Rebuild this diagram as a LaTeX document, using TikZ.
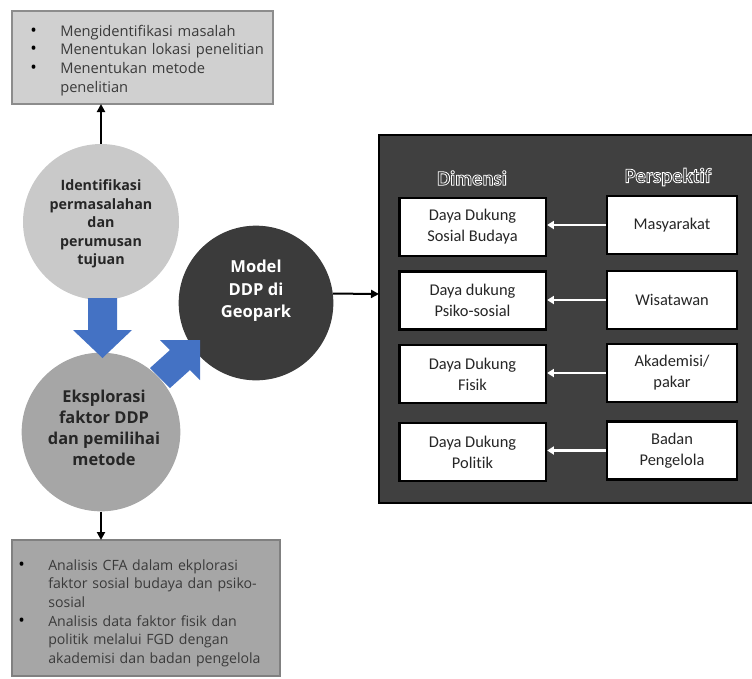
\documentclass[tikz,border=0pt]{standalone}
\usepackage{fontspec}
\setmainfont{Open Sans}
\newfontfamily\carlito[Ligatures=NoCommon]{Carlito}
\usetikzlibrary{arrows.meta}
\definecolor{topbox}{HTML}{D0D0D0}
\definecolor{botbox}{HTML}{A6A6A6}
\definecolor{circA}{HTML}{C9C9C9}
\definecolor{circB}{HTML}{A6A6A6}
\definecolor{circC}{HTML}{3B3B3B}
\definecolor{panelgray}{HTML}{404040}
\definecolor{bluearrow}{HTML}{4472C4}
\definecolor{bodytext}{HTML}{3A3A3A}
\newcommand{\bitem}[1]{\noindent\hangindent=22.5pt\hangafter=1\makebox[22.5pt][l]{{\color{black}\fontsize{13}{14}\selectfont\textbullet}}#1\par}
\newcommand{\hollow}[1]{\special{pdf:literal direct 1 Tr 0.6 w}#1\special{pdf:literal direct 0 Tr}}
\tikzset{
  infobox/.style={draw=#1, line width=0.9pt},
  bullettext/.style={anchor=base west, inner sep=0pt, text width=210pt, align=left,
    font=\fontsize{11}{14}\selectfont, text=bodytext},
  roundel/.style={circle, inner sep=0pt, minimum size=#1},
  conn/.style={line width=1.5pt, -{Triangle[width=6pt,length=6pt]}},
  dimbox/.style={draw=black, fill=white, line width=2pt, minimum width=110pt, minimum height=43.5pt,
    inner sep=0pt, align=center, font=\carlito\fontsize{12.3}{15.8}\selectfont, text=black!85},
  perbox/.style={dimbox, minimum width=97.5pt},
  whitearrow/.style={white, line width=1.6pt, -{Triangle[width=6pt,length=5pt]}},
  heading/.style={text=white, font=\carlito\bfseries\fontsize{15.5}{18}\selectfont, inner sep=0pt}
}
\begin{document}
\begin{tikzpicture}[x=0.75pt,y=-0.75pt]
\useasboundingbox (0,0) rectangle (752,678);
% top box
\draw[infobox=black!45, fill=topbox] (12,11) rectangle (273,104);
\coordinate (topboxbottom) at (101,104);
\node[bullettext] (toptext) at (30,36) {\hyphenpenalty=10000\bitem{Mengidentifikasi masalah}\bitem{Menentukan lokasi penelitian}\bitem{Menentukan metode\newline penelitian}};
% bottom box
\draw[infobox=black!50, fill=botbox] (12,540) rectangle (280,676);
\coordinate (botboxtop) at (101,540);
\node[bullettext, font=\fontsize{10.6}{14}\selectfont] (bottext) at (18,570) {\hyphenpenalty=10000\bitem{Analisis CFA dalam ekplorasi\newline faktor sosial budaya dan psiko-\newline sosial}\bitem{Analisis data faktor fisik dan\newline politik melalui FGD dengan\newline akademisi dan badan pengelola}};
% circles
\node[roundel=117pt, fill=circA] (c1) at (101,222) {};
\node[roundel=119pt, fill=circB] (c2) at (101,432) {};
\node[roundel=116pt, fill=circC] (c3) at (256,303) {};
\node[align=center, inner sep=0pt, font=\bfseries\fontsize{10.7}{13.9}\selectfont, text=black!85] (t1) at (101,224) {Identifikasi\\permasalahan\\dan\\perumusan\\tujuan};
\node[align=center, inner sep=0pt, font=\bfseries\fontsize{12.3}{15.9}\selectfont, text=black!85] (t2) at (104,428) {Eksplorasi\\faktor DDP\\dan pemilihai\\metode};
\node[align=center, inner sep=0pt, font=\bfseries\fontsize{12.4}{17}\selectfont, text=white] (t3) at (256,291) {Model\\DDP di\\Geopark};
% blue block arrows
\fill[bluearrow] (88,298) -- (117,298) -- (117,330) -- (132,330) -- (102.5,358) -- (73,330) -- (88,330) -- cycle;
\fill[bluearrow] (150,368) -- (170,350) -- (160,340) -- (200,340) -- (200,380) -- (190,370) -- (170,388) -- cycle;
% panel
\fill[panelgray] (379,135) rectangle (760,503);
\draw[black, line width=1.8pt] (760,135) -- (379,135) -- (379,503) -- (760,503);
\coordinate (panelW) at (379,294);
% black connectors
\draw[conn] (c1.north) -- (topboxbottom);
\draw[conn] (c2.south) -- (botboxtop);
\draw[conn] (c3.7) -- (panelW);
% headings
\node[heading] (hdim) at (472,178) {\hollow{Dimensi}};
\node[heading] (hper) at (668,177) {\hollow{Perspektif}};
% dimension boxes
\node[dimbox] (d1) at (472.5,227) {Daya Dukung\\Sosial Budaya};
\node[dimbox] (d2) at (472.5,300.5) {Daya dukung\\Psiko-sosial};
\node[dimbox] (d3) at (472.5,374) {Daya Dukung\\Fisik};
\node[dimbox] (d4) at (472.5,452) {Daya Dukung\\Politik};
\node[perbox] (p1) at (672,225) {Masyarakat};
\node[perbox] (p2) at (672,300) {Wisatawan};
\node[perbox] (p3) at (672,373) {Akademisi/\\pakar};
\node[perbox] (p4) at (672,450.5) {Badan\\Pengelola};
\draw[whitearrow] (p1.west) -- (d1.east |- p1.west);
\draw[whitearrow] (p2.west) -- (d2.east |- p2.west);
\draw[whitearrow] (p3.west) -- (d3.east |- p3.west);
\draw[whitearrow] (p4.west) -- (d4.east |- p4.west);
\end{tikzpicture}
\end{document}
